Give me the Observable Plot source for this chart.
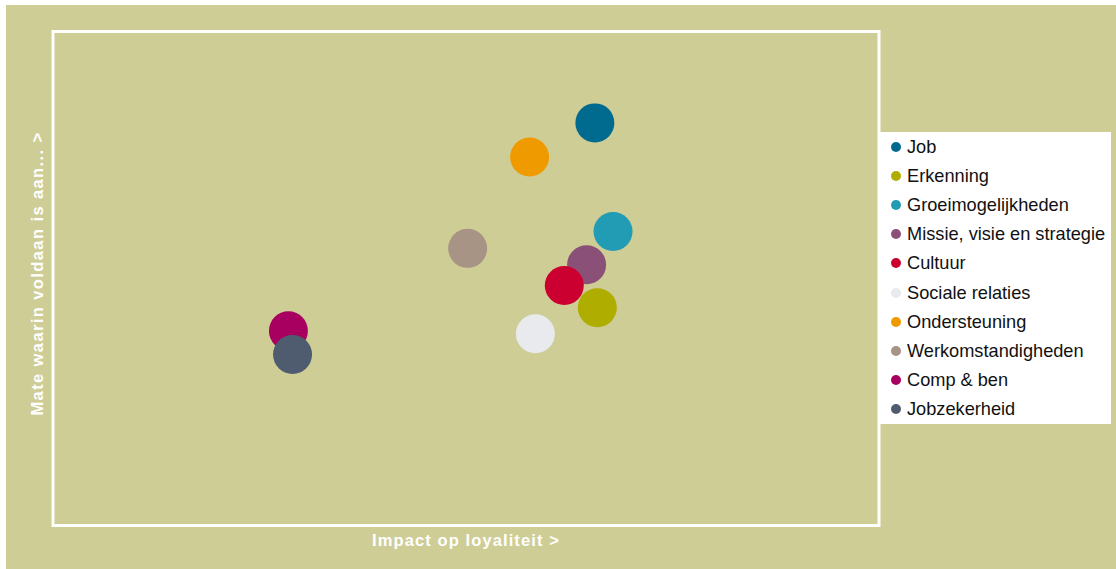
<!DOCTYPE html>
<html>
<head>
<meta charset="utf-8">
<script src="https://cdn.jsdelivr.net/npm/d3@7"></script>
<script src="https://cdn.jsdelivr.net/npm/@observablehq/plot@0.6"></script>
<style>
  html, body { margin: 0; padding: 0; background: #ffffff; }
  #wrap { position: relative; width: 1116px; height: 569px; overflow: hidden; }
  #chart { position: absolute; left: 6px; top: 5px; }
  #legend { position: absolute; left: 880px; top: 132px; width: 231px; height: 292px; background: #ffffff;
            font-family: "Liberation Sans", Arial, sans-serif; font-size: 18.2px; color: #111; }
  .item { position: absolute; left: 0; height: 20px; line-height: 20px; white-space: nowrap; }
  .sw { position: absolute; left: 11px; top: 5px; width: 10px; height: 10px; border-radius: 50%; }
  .lb { position: absolute; left: 27px; top: 0; }
  .xlab text { letter-spacing: 1.1px; }
  .ylab text { letter-spacing: 1.4px; }
</style>
</head>
<body>
<div id="wrap">
  <div id="chart"></div>
  <div id="legend"></div>
</div>
<script>
const categories = ["Job", "Erkenning", "Groeimogelijkheden", "Missie, visie en strategie", "Cultuur",
  "Sociale relaties", "Ondersteuning", "Werkomstandigheden", "Comp & ben", "Jobzekerheid"];
const impact = [65.6, 65.9, 67.8, 64.6, 61.9, 58.4, 57.7, 50.2, 28.5, 29.0];
const satisfaction = [81.5, 44.1, 59.5, 52.8, 48.6, 38.8, 74.6, 56.1, 39.4, 34.6];
const colors = ["#006B8F", "#AFAD00", "#229BB5", "#8A5078", "#CC0030",
  "#E8EAED", "#EF9B00", "#A89484", "#A80060", "#4F5C70"];
const xLabel = "Impact op loyaliteit >";
const yLabel = "Mate waarin voldaan is aan... >";

const data = categories.map((c, i) => ({cat: c, x: impact[i], y: satisfaction[i]}));

const plot = Plot.plot({
  width: 1110,
  height: 564,
  marginLeft: 46.5,
  marginTop: 26,
  marginRight: 237.5,
  marginBottom: 44,
  style: {background: "#CECD96", fontFamily: "'Liberation Sans', Arial, sans-serif"},
  x: {domain: [0, 100], axis: null},
  y: {domain: [0, 100], axis: null},
  color: {domain: categories, range: colors},
  marks: [
    Plot.dot(data, {x: "x", y: "y", r: 19.5, fill: "cat", stroke: "none"}),
    Plot.frame({stroke: "white", strokeWidth: 3}),
    Plot.text([xLabel], {frameAnchor: "bottom", dy: 15, lineAnchor: "middle", fill: "white",
      fontWeight: "bold", fontSize: 16.5, className: "xlab"}),
    Plot.text([yLabel], {frameAnchor: "left", dx: -15.5, dy: -5, rotate: -90, textAnchor: "middle", lineAnchor: "middle",
      fill: "white", fontWeight: "bold", fontSize: 16.5, className: "ylab"})
  ]
});
document.getElementById("chart").appendChild(plot);

const legend = document.getElementById("legend");
categories.forEach((c, i) => {
  const item = document.createElement("div");
  item.className = "item";
  item.style.top = (5 + i * 29.1) + "px";
  const sw = document.createElement("span");
  sw.className = "sw";
  sw.style.background = colors[i];
  const lb = document.createElement("span");
  lb.className = "lb";
  lb.textContent = c;
  item.appendChild(sw);
  item.appendChild(lb);
  legend.appendChild(item);
});
</script>
</body>
</html>
